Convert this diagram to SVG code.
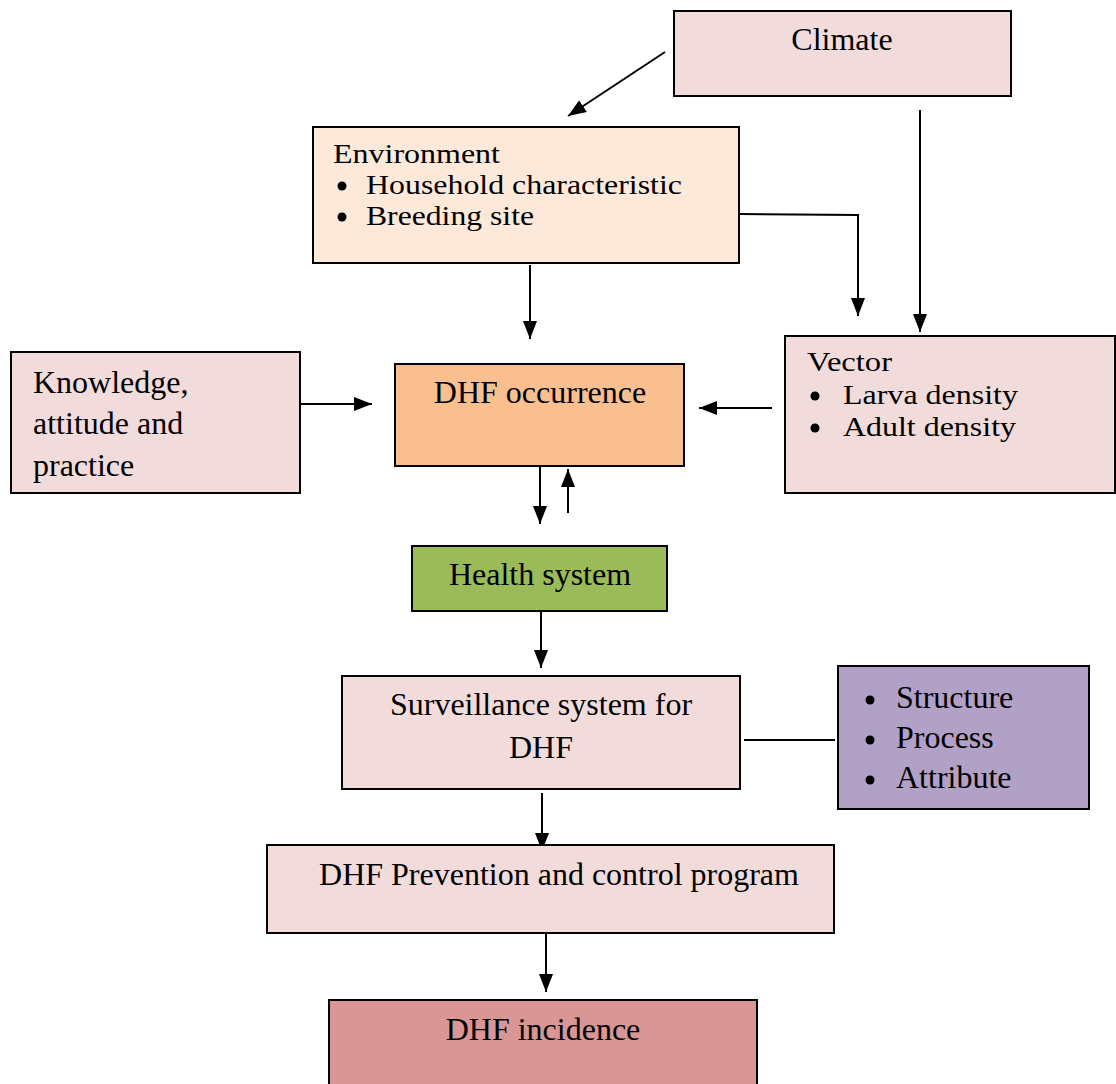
<svg xmlns="http://www.w3.org/2000/svg" width="1116" height="1084" viewBox="0 0 1116 1084">
<style>
.box{stroke:#000;stroke-width:2}
.t{font-family:"Liberation Serif","Times New Roman",serif;font-size:32px;fill:#000}
.s{font-size:27.5px}
.c{text-anchor:middle}
.ln{stroke:#000;stroke-width:2;fill:none}
</style>
<defs>
<marker id="ah" markerUnits="userSpaceOnUse" markerWidth="18" markerHeight="14" viewBox="0 0 18 14" refX="18" refY="7" orient="auto">
<path d="M0,0 L18,7 L0,14 Z" fill="#000"/>
</marker>
</defs>
<rect width="1116" height="1084" fill="#fff"/>
<g id="connectors">
<line class="ln" x1="665" y1="52" x2="568" y2="116" marker-end="url(#ah)"/>
<line class="ln" x1="920" y1="110" x2="920" y2="332" marker-end="url(#ah)"/>
<polyline class="ln" points="739,214 858,215 858,316" marker-end="url(#ah)"/>
<line class="ln" x1="530" y1="265" x2="530" y2="339" marker-end="url(#ah)"/>
<line class="ln" x1="300" y1="404" x2="372" y2="404" marker-end="url(#ah)"/>
<line class="ln" x1="772" y1="408" x2="699" y2="408" marker-end="url(#ah)"/>
<line class="ln" x1="540" y1="466" x2="540" y2="524" marker-end="url(#ah)"/>
<line class="ln" x1="568" y1="513" x2="568" y2="469" marker-end="url(#ah)"/>
<line class="ln" x1="541" y1="611" x2="541" y2="668" marker-end="url(#ah)"/>
<line class="ln" x1="744" y1="740" x2="835" y2="740"/>
<line class="ln" x1="542" y1="793" x2="542" y2="851" marker-end="url(#ah)"/>
<line class="ln" x1="546" y1="934" x2="546" y2="992" marker-end="url(#ah)"/>
</g>
<g id="climate">
<rect class="box" x="674" y="11" width="337" height="85" fill="#F2DCDB"/>
<text class="t c" x="842" y="50">Climate</text>
</g>
<g id="environment">
<rect class="box" x="313" y="127" width="426" height="136" fill="#FDE9D9"/>
<circle cx="342" cy="186" r="4.5"/>
<circle cx="342" cy="217" r="4.5"/>
<text class="t s" x="333" y="163" textLength="167" lengthAdjust="spacingAndGlyphs">Environment</text>
<text class="t s" x="366" y="194" textLength="316" lengthAdjust="spacingAndGlyphs">Household characteristic</text>
<text class="t s" x="366" y="225" textLength="168" lengthAdjust="spacingAndGlyphs">Breeding site</text>
</g>
<g id="knowledge">
<rect class="box" x="11" y="352" width="289" height="141" fill="#F2DCDB"/>
<text class="t" x="33" y="393">Knowledge,</text>
<text class="t" x="33" y="434">attitude and</text>
<text class="t" x="33" y="476">practice</text>
</g>
<g id="dhf-occurrence">
<rect class="box" x="395" y="364" width="289" height="102" fill="#FABF8F"/>
<text class="t c" x="540" y="403">DHF occurrence</text>
</g>
<g id="vector">
<rect class="box" x="785" y="336" width="330" height="157" fill="#F2DCDB"/>
<circle cx="815" cy="396" r="4.5"/>
<circle cx="815" cy="428" r="4.5"/>
<text class="t s" x="807" y="371" textLength="85" lengthAdjust="spacingAndGlyphs">Vector</text>
<text class="t s" x="843" y="404" textLength="175" lengthAdjust="spacingAndGlyphs">Larva density</text>
<text class="t s" x="843" y="436" textLength="173" lengthAdjust="spacingAndGlyphs">Adult density</text>
</g>
<g id="health-system">
<rect class="box" x="412" y="546" width="255" height="65" fill="#9BBB59"/>
<text class="t c" x="540" y="585">Health system</text>
</g>
<g id="surveillance">
<rect class="box" x="342" y="676" width="398" height="113" fill="#F2DCDB"/>
<text class="t c" x="541" y="715">Surveillance system for</text>
<text class="t c" x="541" y="758">DHF</text>
</g>
<g id="attributes">
<rect class="box" x="838" y="666" width="251" height="143" fill="#B2A1C7"/>
<circle cx="870" cy="700" r="4.5"/>
<text class="t" x="896" y="708">Structure</text>
<circle cx="870" cy="740" r="4.5"/>
<text class="t" x="896" y="748">Process</text>
<circle cx="870" cy="780" r="4.5"/>
<text class="t" x="896" y="788">Attribute</text>
</g>
<g id="prevention">
<rect class="box" x="267" y="845" width="567" height="88" fill="#F2DCDB"/>
<text class="t c" x="559" y="885">DHF Prevention and control program</text>
</g>
<g id="incidence">
<rect class="box" x="329" y="1000" width="428" height="90" fill="#D99694"/>
<text class="t c" x="543" y="1040">DHF incidence</text>
</g>
</svg>
